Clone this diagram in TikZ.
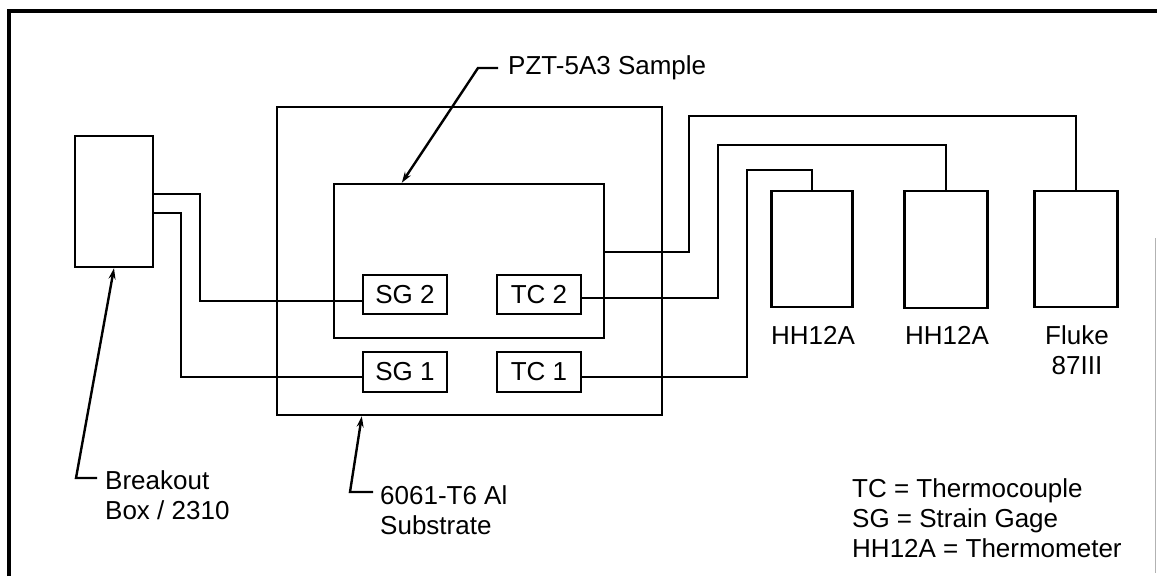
\documentclass[tikz,border=0pt]{standalone}
\usepackage{fontspec}
\setmainfont{Liberation Sans}
\usetikzlibrary{arrows.meta}
\begin{document}
\begin{tikzpicture}[x=1pt,y=-1pt,
  box/.style={draw,line width=2.4pt,rectangle,inner sep=0pt},
  wire/.style={line width=1.6pt},
  leader/.style={line width=2.4pt,-{Stealth[length=11pt,width=7pt]}},
  lbl/.style={inner sep=0pt,font=\fontsize{26}{30}\selectfont},
  every node/.style={font=\fontsize{26}{30}\selectfont}]
\useasboundingbox (0,0) rectangle (1157,576);
% frame
\draw[line width=4pt] (9,576) -- (9,11) -- (1157,11);
\draw[line width=0.8pt,gray!60] (1155.5,238) -- (1155.5,573);
% boxes
\node[box,minimum width=78pt,minimum height=131pt] (bo) at (114,201.5) {};
\node[box,minimum width=385pt,minimum height=308pt] (sub) at (469.5,261) {};
\node[box,minimum width=270pt,minimum height=154pt] (smp) at (469,261) {};
\node[box,minimum width=84pt,minimum height=39pt] (sg2) at (405,294.5) {SG 2};
\node[box,minimum width=84pt,minimum height=39pt] (tc2) at (539,294.5) {TC 2};
\node[box,minimum width=84pt,minimum height=40pt] (sg1) at (405,372) {SG 1};
\node[box,minimum width=84pt,minimum height=40pt] (tc1) at (539,372) {TC 1};
\node[box,minimum width=81pt,minimum height=116pt] (h1) at (812,249) {};
\node[box,minimum width=83pt,minimum height=117pt] (h2) at (946,249.5) {};
\node[box,minimum width=83pt,minimum height=116pt] (fl) at (1076,249) {};
% device labels
\node[lbl] (h1l) at (813,335) {HH12A};
\node[lbl] (h2l) at (947,335) {HH12A};
\node[lbl,align=center] (fll) at (1077,350) {Fluke\\87III};
% wires
\draw[wire] (bo.east |- 0,194) -| (200,301) -- (sg2.west |- 0,301);
\draw[wire] (bo.east |- 0,213) -| (181,377) -- (sg1.west |- 0,377);
\draw[wire] (tc2.east |- 0,298) -| (718,145) -| (h2.north);
\draw[wire] (tc1.east |- 0,377) -| (747,170) -| (h1.north);
\draw[wire] (smp.east |- 0,252) -| (689,116) -| (fl.north);
% callout labels
\node[lbl,anchor=west] (pzt) at (508,68) {PZT-5A3 Sample};
\node[lbl,anchor=west,align=left] (bol) at (105,495) {Breakout\\Box / 2310};
\node[lbl,anchor=west,align=left] (subl) at (380,510) {6061-T6 Al\\Substrate};
\node[lbl,anchor=west,align=left] (leg) at (852,518) {TC = Thermocouple\\SG = Strain Gage\\HH12A = Thermometer};
% leaders
\coordinate (p1) at (498,68);
\coordinate (p1b) at (478,68);
\draw[leader] (p1) -- (p1b) -- ([xshift=69pt]smp.north west);
\coordinate (p2) at (97,478);
\coordinate (p2b) at (76,478);
\draw[leader] (p2) -- (p2b) -- (bo.south);
\coordinate (p3) at (373,492);
\coordinate (p3b) at (350,492);
\draw[leader] (p3) -- (p3b) -- ([xshift=86pt]sub.south west);
\end{tikzpicture}
\end{document}
